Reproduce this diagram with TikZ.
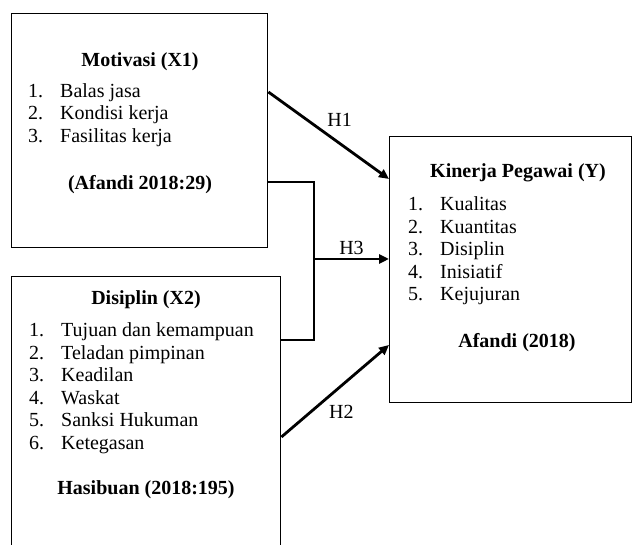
\documentclass[tikz,border=0pt]{standalone}
\usepackage{fontspec}
\setmainfont{Liberation Serif}
\usetikzlibrary{arrows.meta}

\newcommand{\itm}[1]{\makebox[32pt][l]{#1.}}
\newcommand{\basefont}{\fontsize{20}{22.5}\selectfont}

\tikzset{
  varbox/.style={draw, line width=1.4pt, anchor=north west, inner sep=0pt},
  title/.style={font=\basefont\bfseries, inner sep=0pt},
  items/.style={align=left, anchor=west, inner sep=0pt},
  link/.style={line width=2.8pt},
  arr/.style={line width=2.8pt, -{Triangle[length=10pt,width=9pt]}}
}

\begin{document}
\begin{tikzpicture}[x=1pt, y=-1pt, font=\basefont]

    \useasboundingbox (0,0) rectangle (633,545);

    \node[varbox, minimum width=256pt, minimum height=234pt] (x1) at (11,13) {};
    \node[varbox, minimum width=269pt, minimum height=282pt] (x2) at (11,276) {};
    \node[varbox, minimum width=242pt, minimum height=266pt] (ky) at (389,136) {};

    \node[title] (t1) at (140,62) {Motivasi (X1)};
    \node[items] (l1) at (28,115) {\itm{1}Balas jasa\\ \itm{2}Kondisi kerja\\ \itm{3}Fasilitas kerja};
    \node[title] (s1) at (140,185) {(Afandi 2018:29)};

    \node[title] (t2) at (146,300) {Disiplin (X2)};
    \node[items] (l2) at (29,388) {\itm{1}Tujuan dan kemampuan\\ \itm{2}Teladan pimpinan\\ \itm{3}Keadilan\\ \itm{4}Waskat\\ \itm{5}Sanksi Hukuman\\ \itm{6}Ketegasan};
    \node[title] (s2) at (146,490) {Hasibuan (2018:195)};

    \node[title] (ty) at (518,173) {Kinerja Pegawai (Y)};
    \node[items] (ly) at (408,251) {\itm{1}Kualitas\\ \itm{2}Kuantitas\\ \itm{3}Disiplin\\ \itm{4}Inisiatif\\ \itm{5}Kejujuran};
    \node[title] (sy) at (517,343) {Afandi (2018)};

    \coordinate (jn) at (314,259);

    \draw[arr] ([yshift=-79pt]x1.north east) -- node[pos=0.45, above right] {H1} ([yshift=-43pt]ky.north west);
    \draw[link] ([yshift=-169pt]x1.north east) -| (jn) |- ([yshift=-64pt]x2.north east);
    \draw[arr] (jn) -- node[above] {H3} (ky.west |- jn);
    \draw[arr] ([yshift=-161pt]x2.north east) -- node[pos=0.4, below right] {H2} ([yshift=-209pt]ky.north west);

\end{tikzpicture}
\end{document}
